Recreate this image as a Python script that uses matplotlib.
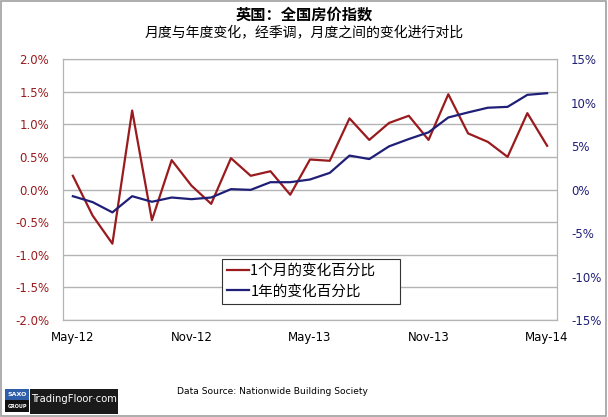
import matplotlib.pyplot as plt
from matplotlib.patches import Rectangle

plt.rcParams['font.family'] = ['DejaVu Sans', 'Noto Sans CJK SC']
cjk = ['Noto Sans CJK SC', 'DejaVu Sans']

months = ["May-12", "Jun-12", "Jul-12", "Aug-12", "Sep-12", "Oct-12", "Nov-12",
          "Dec-12", "Jan-13", "Feb-13", "Mar-13", "Apr-13", "May-13", "Jun-13",
          "Jul-13", "Aug-13", "Sep-13", "Oct-13", "Nov-13", "Dec-13", "Jan-14",
          "Feb-14", "Mar-14", "Apr-14", "May-14"]
mom = [0.21, -0.40, -0.83, 1.21, -0.47, 0.45, 0.06, -0.22, 0.48, 0.21, 0.28,
       -0.08, 0.46, 0.44, 1.09, 0.76, 1.02, 1.13, 0.76, 1.46, 0.86, 0.73, 0.50,
       1.17, 0.67]
yoy = [-0.77, -1.45, -2.63, -0.77, -1.41, -0.92, -1.11, -0.92, 0.04, -0.04, 0.84,
       0.84, 1.15, 1.91, 3.90, 3.50, 4.96, 5.80, 6.57, 8.28, 8.86, 9.40, 9.50,
       10.88, 11.07]
left_ticks = [-2.0, -1.5, -1.0, -0.5, 0.0, 0.5, 1.0, 1.5, 2.0]
right_ticks = [-15, -10, -5, 0, 5, 10, 15]
shown = [0, 6, 12, 18, 24]

red = '#991b1e'
navy = '#1f1f78'
grid = '#b4b4b4'

fig = plt.figure(figsize=(6.08, 4.17), dpi=100)
W, H = 608.0, 417.0
fig.patches.append(Rectangle((0.002, 0.003), 0.995, 0.994, transform=fig.transFigure,
                             fill=False, edgecolor='#a0a0a0', lw=1.2))

ax = fig.add_axes([0.1036, 0.2326, 0.8125, 0.6259])
ax2 = ax.twinx()
x = list(range(len(months)))

l1, = ax.plot(x, mom, color=red, lw=1.6, label='1个月的变化百分比')
l2, = ax2.plot(x, [v / 100 for v in yoy], color=navy, lw=1.6, label='1年的变化百分比')

ax.set_xlim(-0.5, len(months) - 0.5)
ax.set_ylim(-2.0, 2.0)
ax2.set_ylim(-0.15, 0.15)
ax.set_yticks(left_ticks)
ax.set_yticklabels([f"{v:.1f}%" for v in left_ticks], color=red, fontsize=8.5)
ax2.set_yticks([v / 100 for v in right_ticks])
ax2.set_yticklabels([f"{v}%" for v in right_ticks], color=navy, fontsize=8.5)
ax.set_xticks(shown)
ax.set_xticklabels([months[i] for i in shown], fontsize=8.5)
ax.tick_params(axis='both', length=0, pad=8)
ax2.tick_params(axis='y', length=0, pad=10)
ax.tick_params(axis='y', pad=10)
ax.grid(axis='y', color=grid, lw=1)
ax.set_axisbelow(True)
for a in (ax, ax2):
    for s in a.spines.values():
        s.set_color(grid)

leg = ax.legend([l1, l2], [l1.get_label() + '      ', l2.get_label()], loc='upper left',
                bbox_to_anchor=(0.322, 0.234), borderaxespad=0, fancybox=False,
                edgecolor='#333333', framealpha=1, handlelength=1.5,
                handletextpad=0.1, borderpad=0.35, labelspacing=0.45,
                prop={'family': cjk, 'size': 10.5})
leg.get_frame().set_linewidth(0.8)

fig.text(0.5, 0.966, '英国：全国房价指数', ha='center', va='center',
         fontsize=11, fontweight='bold', family=cjk)
fig.text(0.5, 0.921, '月度与年度变化，经季调，月度之间的变化进行对比', ha='center',
         va='center', fontsize=10, family=cjk)
fig.text(272 / W, 1 - 392 / H, 'Data Source: Nationwide Building Society', ha='center',
         va='center', fontsize=6.6)

# logo
fig.patches.append(Rectangle((5 / W, 1 - 412 / H), 24 / W, 12 / H,
                             transform=fig.transFigure, fc='#111111', ec='none'))
fig.patches.append(Rectangle((5 / W, 1 - 400 / H), 24 / W, 11 / H,
                             transform=fig.transFigure, fc='#2e5fa8', ec='none'))
fig.patches.append(Rectangle((30 / W, 1 - 414 / H), 88 / W, 25 / H,
                             transform=fig.transFigure, fc='#1a1a1a', ec='none'))
fig.text(17 / W, 1 - 394.5 / H, 'SAXO', ha='center', va='center', fontsize=4.5,
         color='white', fontweight='bold')
fig.text(17 / W, 1 - 406 / H, 'GROUP', ha='center', va='center', fontsize=3.5,
         color='white', fontweight='bold')
fig.text(74 / W, 1 - 399 / H, 'TradingFloor·com', ha='center', va='center',
         fontsize=7.2, color='white')

fig.savefig('out.png', dpi=100)
